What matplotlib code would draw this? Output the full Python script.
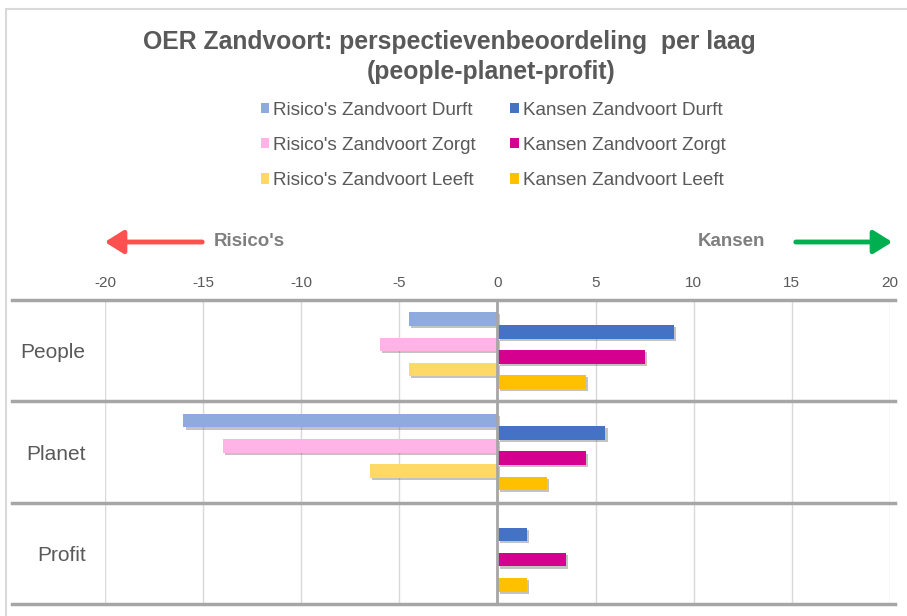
import matplotlib
matplotlib.use("Agg")
import matplotlib.pyplot as plt
import matplotlib.patheffects as pe
from matplotlib.patches import Rectangle, Patch, FancyArrowPatch
import numpy as np

plt.rcParams['font.family'] = ['Liberation Sans', 'DejaVu Sans']

# data
categories = ['People', 'Planet', 'Profit']
risico_durft = [-4.5, -16, 0]
kansen_durft = [9, 5.5, 1.5]
risico_zorgt = [-6, -14, 0]
kansen_zorgt = [7.5, 4.5, 3.5]
risico_leeft = [-4.5, -6.5, 0]
kansen_leeft = [4.5, 2.5, 1.5]
ticks = [-20, -15, -10, -5, 0, 5, 10, 15, 20]

series = [
    ("Risico's Zandvoort Durft", risico_durft, '#8FAADC'),
    ("Kansen Zandvoort Durft", kansen_durft, '#4472C4'),
    ("Risico's Zandvoort Zorgt", risico_zorgt, '#FFB3E6'),
    ("Kansen Zandvoort Zorgt", kansen_zorgt, '#D5008F'),
    ("Risico's Zandvoort Leeft", risico_leeft, '#FFD966'),
    ("Kansen Zandvoort Leeft", kansen_leeft, '#FFC000'),
]

W, H = 907, 616
fig = plt.figure(figsize=(W / 100, H / 100), dpi=100)
fig.patch.set_facecolor('white')

# light border of chart area (cut off at right/bottom)
fig.patches.append(Rectangle((6 / W, -0.1), 1.2, 1 - 9 / H + 0.1, transform=fig.transFigure,
                             fill=False, edgecolor='#d9d9d9', lw=1.5, zorder=0))

ax = fig.add_axes([105 / W, 12 / H, 785 / W, 304 / H])
y = np.arange(len(categories))
step = 0.124
hgt = 0.135
shadow = [pe.SimplePatchShadow(offset=(1.5, -1.5), alpha=0.35, shadow_rgbFace='#555555'), pe.Normal()]
for i, (name, vals, col) in enumerate(series):
    bars = ax.barh(y + (i - 2.5) * step, vals, height=hgt, color=col, zorder=3)
    for b in bars:
        if b.get_width() != 0:
            b.set_path_effects(shadow)

ax.set_xlim(-20, 20)
ax.set_ylim(2.5, -0.5)
ax.xaxis.tick_top()
ax.set_xticks(ticks)
ax.set_xticklabels([str(t) for t in ticks])
ax.tick_params(axis='x', length=0, pad=7, labelsize=11, labelcolor='#595959')
ax.set_yticks(y)
ax.set_yticklabels(categories)
ax.tick_params(axis='y', length=0, pad=14, labelsize=15, labelcolor='#595959')
for s in ax.spines.values():
    s.set_visible(False)

for t in ticks:
    if t == 0:
        ax.axvline(t, color='#a6a6a6', lw=2, zorder=4)
    else:
        ax.axvline(t, color='#d9d9d9', lw=1, zorder=1)

for b in [-0.5, 0.5, 1.5, 2.5]:
    ax.plot([-0.118, 1.006], [b, b], transform=ax.get_yaxis_transform(), color='#a6a6a6',
            lw=2.5, clip_on=False, zorder=5)

# title
fig.text(449 / W, 1 - 42 / H, 'OER Zandvoort: perspectievenbeoordeling  per laag', ha='center',
         va='center', fontsize=17.8, fontweight='bold', color='#595959')
fig.text(491 / W, 1 - 72 / H, '(people-planet-profit)', ha='center', va='center',
         fontsize=17.8, fontweight='bold', color='#595959')

# legend (column-wise: risico's left, kansen right)
order = [0, 2, 4, 1, 3, 5]
leg_handles = [Patch(facecolor=series[k][2]) for k in order]
fig.legend(leg_handles, [series[k][0] for k in order],
           ncol=2, loc='upper left', bbox_to_anchor=(253 / W, 1 - 94 / H), frameon=False,
           fontsize=13.6, labelcolor='#595959', handlelength=0.45, handleheight=0.45,
           handletextpad=0.2, labelspacing=0.97, columnspacing=1.85, borderaxespad=0)

# Risico's / Kansen labels with arrows
ya = 1 - 242 / H
fig.text(249 / W, ya, "Risico's", ha='center', va='center', fontsize=13.5, fontweight='bold', color='#7f7f7f')
fig.text(731 / W, ya, 'Kansen', ha='center', va='center', fontsize=13.5, fontweight='bold', color='#7f7f7f')
fig.add_artist(FancyArrowPatch((205 / W, ya), (102 / W, ya), transform=fig.transFigure,
               arrowstyle='-|>,head_length=8,head_width=5', mutation_scale=1.4, color='#FF5050', lw=3.5))
fig.add_artist(FancyArrowPatch((793 / W, ya), (895 / W, ya), transform=fig.transFigure,
               arrowstyle='-|>,head_length=8,head_width=5', mutation_scale=1.4, color='#00B050', lw=3.5))

fig.savefig('out.png', dpi=100)
